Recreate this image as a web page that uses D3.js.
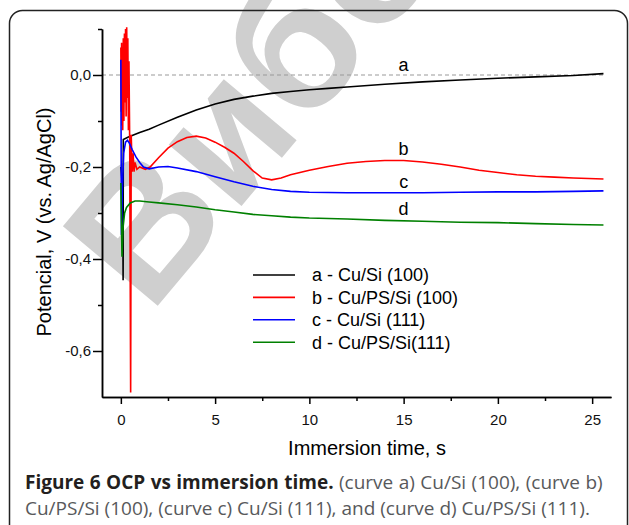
<!DOCTYPE html>
<meta charset="utf-8">
<style>
body { margin: 0; background: #fff; }
svg { display: block; }
.tick text { font-family: "Liberation Sans", Arial, sans-serif; font-size: 15px; fill: #111; }
.axis path, .axis line { stroke: #000; stroke-width: 1.5; }
.curve { fill: none; stroke-width: 1.6; }
</style>
<svg width="629" height="525"></svg>
<script src="https://d3js.org/d3.v7.min.js"></script>
<script>

// curve a - Cu/Si (100)
var timeA = [0.0, 0.1, 0.12, 0.13, 0.4, 1, 1.5, 2, 3, 4, 5, 6, 7, 8, 9, 10, 11, 12, 14, 16, 18, 20, 22, 24, 25.6];
var potA  = [-0.2, -0.25, -0.446, -0.14, -0.135, -0.125, -0.118, -0.109, -0.092, -0.076, -0.063, -0.053, -0.046, -0.04, -0.036, -0.032, -0.029, -0.026, -0.02, -0.015, -0.011, -0.007, -0.004, -0.001, 0.003];

// curve b - Cu/PS/Si (100)
var timeB = [0.0, 0.02, 0.04, 0.06, 0.08, 0.1, 0.13, 0.16, 0.19, 0.22, 0.25, 0.28, 0.31, 0.34, 0.37, 0.4, 0.43, 0.47, 0.52, 0.55, 0.6, 0.65, 0.7, 0.75, 0.85, 1.0, 1.3, 1.55, 2.0, 2.5, 3.0, 3.5, 4.0, 4.5, 5.0, 5.5, 6.0, 6.5, 7.0, 7.5, 8.0, 8.5, 9.0, 9.5, 10, 11, 12, 13, 14, 15, 16, 17, 18, 19, 20, 21, 22, 23, 24, 25.6];
var potB  = [0.06, -0.08, 0.07, -0.11, 0.05, -0.12, 0.08, -0.1, 0.09, -0.06, 0.1, -0.09, 0.104, -0.05, 0.08, -0.12, 0.03, -0.15, -0.69, -0.13, -0.21, -0.17, -0.21, -0.19, -0.205, -0.2, -0.205, -0.2, -0.18, -0.159, -0.145, -0.136, -0.133, -0.137, -0.146, -0.157, -0.17, -0.188, -0.208, -0.224, -0.228, -0.224, -0.217, -0.212, -0.207, -0.199, -0.192, -0.188, -0.186, -0.186, -0.189, -0.194, -0.2, -0.207, -0.212, -0.217, -0.22, -0.222, -0.224, -0.226];

// curve c - Cu/Si (111)
var timeC = [0.0, 0.03, 0.08, 0.15, 0.25, 0.35, 0.45, 0.6, 0.8, 1.0, 1.2, 1.5, 2.0, 2.5, 3.0, 4.0, 5.0, 6.0, 7.0, 8.0, 9.0, 10, 12, 14, 16, 18, 20, 22, 24, 25.6];
var potC  = [0.033, -0.348, -0.25, -0.17, -0.146, -0.142, -0.148, -0.162, -0.178, -0.19, -0.2, -0.204, -0.2, -0.199, -0.202, -0.21, -0.221, -0.232, -0.242, -0.249, -0.253, -0.255, -0.256, -0.256, -0.256, -0.255, -0.254, -0.254, -0.253, -0.252];

// curve d - Cu/PS/Si(111)
var timeD = [0.0, 0.06, 0.12, 0.2, 0.3, 0.5, 0.75, 1.0, 1.5, 2.0, 3.0, 4.0, 5.0, 6.0, 7.0, 8.0, 9.0, 10, 12, 14, 16, 18, 20, 22, 24, 25.6];
var potD  = [-0.235, -0.395, -0.33, -0.3, -0.288, -0.278, -0.274, -0.274, -0.276, -0.278, -0.282, -0.287, -0.293, -0.298, -0.303, -0.306, -0.309, -0.311, -0.313, -0.316, -0.318, -0.32, -0.321, -0.323, -0.325, -0.326];

var seriesNames  = ["a - Cu/Si (100)", "b - Cu/PS/Si (100)", "c - Cu/Si (111)", "d - Cu/PS/Si(111)"];
var seriesColors = ["#000000", "#ff0000", "#0000ff", "#008000"];

// curve letters placed next to the lines (time, potential)
var letters   = ["a", "b", "c", "d"];
var letterPos = [[15, 0.022], [15, -0.16], [15, -0.232], [15, -0.29]];

var xMajor = [0, 5, 10, 15, 20, 25];
var xMinor = [2.5, 7.5, 12.5, 17.5, 22.5];
var yMajor = [0, -0.2, -0.4, -0.6];
var yMinor = [0.1, -0.1, -0.3, -0.5];

var svg = d3.select("svg");

svg.append("rect").attr("width", 629).attr("height", 525).attr("fill", "#fff");

// watermark (behind everything)
svg.append("text")
  .attr("transform", "translate(150,315) rotate(-50)")
  .style("font-family", "Liberation Sans, Arial, sans-serif")
  .style("font-size", "180px")
  .style("font-weight", "bold")
  .attr("fill", "#cfcfcf")
  .text("Вибо");

// frame
svg.append("rect")
  .attr("x", 9.5).attr("y", 10.5)
  .attr("width", 618).attr("height", 560)
  .attr("rx", 13)
  .attr("fill", "none")
  .attr("stroke", "#222")
  .attr("stroke-width", 1.5);

var x = d3.scaleLinear().domain([-1, 26]).range([102, 611]);
var y = d3.scaleLinear().domain([-0.7, 0.1]).range([397, 29]);

var fmt = function(d) { return d3.format(".1f")(d).replace("−", "-").replace(".", ","); };

// zero reference line
svg.append("line")
  .attr("x1", x(-1)).attr("x2", x(25.6))
  .attr("y1", y(0)).attr("y2", y(0))
  .attr("stroke", "#999")
  .attr("stroke-width", 1)
  .attr("stroke-dasharray", "4,3");

// axes
svg.append("g").attr("class", "axis")
  .attr("transform", "translate(0," + y(-0.7) + ")")
  .call(d3.axisBottom(x).tickValues(xMinor).tickSize(4).tickSizeOuter(0).tickFormat(""));
svg.append("g").attr("class", "axis")
  .attr("transform", "translate(0," + y(-0.7) + ")")
  .call(d3.axisBottom(x).tickValues(xMajor).tickSize(7).tickSizeOuter(0).tickPadding(10));

svg.append("g").attr("class", "axis")
  .attr("transform", "translate(" + x(-1) + ",0)")
  .call(d3.axisLeft(y).tickValues(yMinor).tickSize(4).tickSizeOuter(0).tickFormat(""));
svg.append("g").attr("class", "axis")
  .attr("transform", "translate(" + x(-1) + ",0)")
  .call(d3.axisLeft(y).tickValues(yMajor).tickSize(9).tickSizeOuter(0).tickPadding(2).tickFormat(fmt));

// axis titles
svg.append("text")
  .attr("x", 367).attr("y", 455)
  .attr("text-anchor", "middle")
  .style("font-family", "Liberation Sans, Arial, sans-serif")
  .style("font-size", "20px")
  .text("Immersion time, s");

svg.append("text")
  .attr("transform", "translate(51,222) rotate(-90)")
  .attr("text-anchor", "middle")
  .style("font-family", "Liberation Sans, Arial, sans-serif")
  .style("font-size", "20px")
  .text("Potencial, V (vs. Ag/AgCl)");

// curves
var line = d3.line()
  .x(function(d) { return x(d[0]); })
  .y(function(d) { return y(d[1]); });

var allTimes = [timeA, timeB, timeC, timeD];
var allPots  = [potA, potB, potC, potD];

allTimes.forEach(function(ts, i) {
  var pts = ts.map(function(t, j) { return [t, allPots[i][j]]; });
  svg.append("path")
    .attr("class", "curve")
    .attr("d", line(pts))
    .attr("stroke", seriesColors[i]);
});

// curve letters
svg.selectAll(".letter")
  .data(letters).enter()
  .append("text")
  .attr("class", "letter")
  .attr("x", function(d, i) { return x(letterPos[i][0]); })
  .attr("y", function(d, i) { return y(letterPos[i][1]); })
  .attr("dy", "0.35em")
  .attr("text-anchor", "middle")
  .style("font-family", "Liberation Sans, Arial, sans-serif")
  .style("font-size", "18px")
  .text(function(d) { return d; });

// legend
var legend = svg.selectAll(".legend")
  .data(seriesNames).enter()
  .append("g")
  .attr("class", "legend")
  .attr("transform", function(d, i) { return "translate(253," + (275 + i * 22.4) + ")"; });

legend.append("line")
  .attr("x1", 0).attr("x2", 42)
  .attr("stroke", function(d, i) { return seriesColors[i]; })
  .attr("stroke-width", 1.6);

legend.append("text")
  .attr("x", 59).attr("dy", "0.35em")
  .style("font-family", "Liberation Sans, Arial, sans-serif")
  .style("font-size", "18px")
  .text(function(d) { return d; });

// caption
var cap1 = svg.append("text")
  .attr("x", 25).attr("y", 489)
  .style("font-family", "Open Sans, sans-serif")
  .style("font-size", "19px")
  .style("word-spacing", "0.5px");
cap1.append("tspan").attr("font-weight", "bold").attr("fill", "#231f20").text("Figure 6 OCP vs immersion time.");
cap1.append("tspan").attr("fill", "#58595b").text(" (curve a) Cu/Si (100), (curve b)");

svg.append("text")
  .attr("x", 25).attr("y", 515)
  .style("font-family", "Open Sans, sans-serif")
  .style("font-size", "19px")
  .attr("fill", "#58595b")
  .text("Cu/PS/Si (100), (curve c) Cu/Si (111), and (curve d) Cu/PS/Si (111).");

</script>
